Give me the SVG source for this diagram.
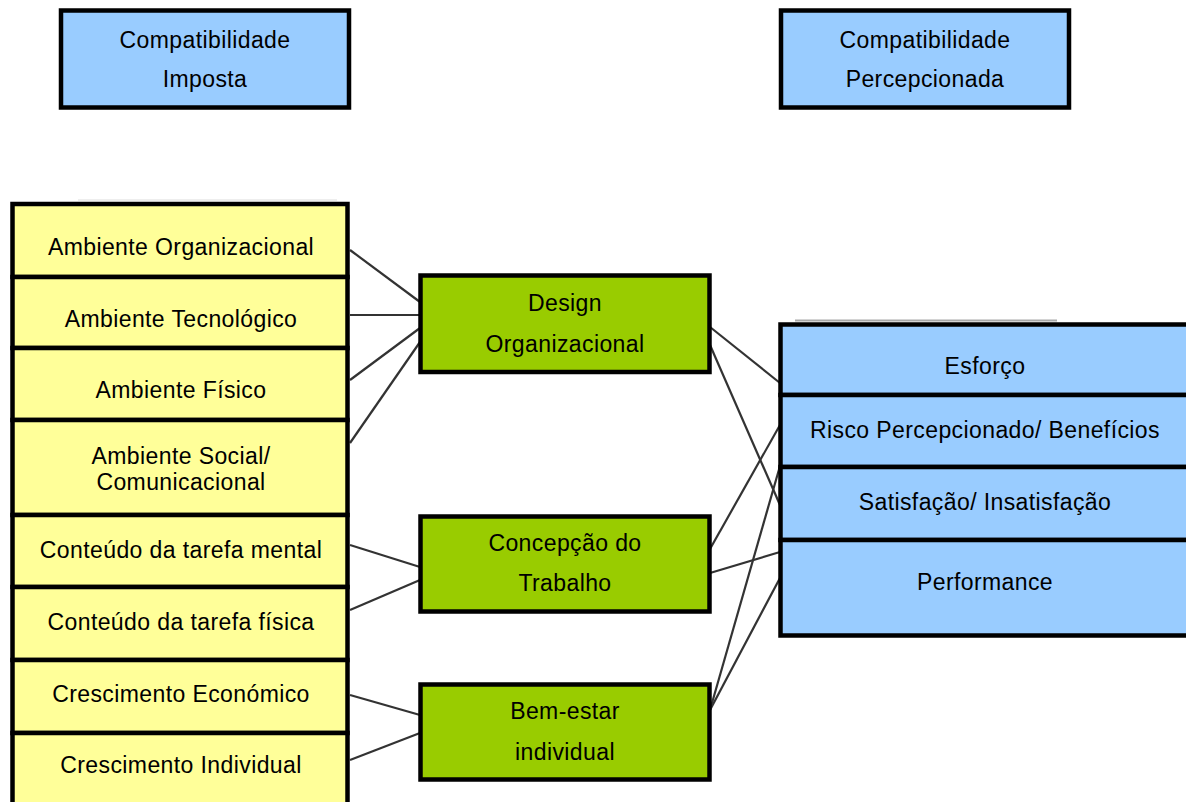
<svg xmlns="http://www.w3.org/2000/svg" width="1186" height="802" viewBox="0 0 1186 802">
  <style>
    .box { stroke: #000; stroke-width: 4.5; }
    .blue { fill: #99CCFF; }
    .yellow { fill: #FFFF99; }
    .green { fill: #99CC00; }
    text { font-family: "Liberation Sans", Arial, sans-serif; font-size: 23px; letter-spacing: 0.4px; fill: #000; text-anchor: middle; }
    .link { stroke: #333; stroke-width: 2.2; fill: none; }
    .shadow { stroke: #aaa; stroke-width: 2; }
  </style>
  <rect width="1186" height="802" fill="#fff"/>

  <!-- headers -->
  <g id="compat-imposta">
    <rect class="box blue" x="61" y="10.5" width="288" height="97"/>
    <text x="205" y="48">Compatibilidade</text>
    <text x="205" y="87">Imposta</text>
  </g>
  <g id="compat-percepcionada">
    <rect class="box blue" x="781" y="10.5" width="288" height="97"/>
    <text x="925" y="48">Compatibilidade</text>
    <text x="925" y="87">Percepcionada</text>
  </g>

  <!-- faint edge lines above the stacks -->
  <line class="shadow" x1="78" y1="200" x2="337" y2="200" stroke-opacity="0.2"/>
  <line class="shadow" x1="795" y1="320.5" x2="1057" y2="320.5"/>

  <!-- connectors -->
  <g id="connectors">
    <line class="link" x1="350" y1="250" x2="420" y2="302"/>
    <line class="link" x1="350" y1="315" x2="420" y2="315"/>
    <line class="link" x1="350" y1="380" x2="420" y2="328"/>
    <line class="link" x1="350" y1="443" x2="420" y2="342"/>
    <line class="link" x1="350" y1="545" x2="420" y2="567"/>
    <line class="link" x1="350" y1="610" x2="420" y2="580"/>
    <line class="link" x1="350" y1="695" x2="420" y2="715"/>
    <line class="link" x1="350" y1="760" x2="420" y2="733"/>

    <line class="link" x1="710" y1="327" x2="780" y2="383"/>
    <line class="link" x1="710" y1="345" x2="780" y2="505"/>
    <line class="link" x1="710" y1="549" x2="780" y2="425"/>
    <line class="link" x1="710" y1="573" x2="780" y2="552"/>
    <line class="link" x1="710" y1="710" x2="780" y2="466"/>
    <line class="link" x1="710" y1="710" x2="780" y2="578"/>
  </g>

  <!-- left stack -->
  <g id="amb-organizacional">
    <rect class="box yellow" x="12.5" y="204" width="335" height="73"/>
    <text x="181" y="255">Ambiente Organizacional</text>
  </g>
  <g id="amb-tecnologico">
    <rect class="box yellow" x="12.5" y="277" width="335" height="71"/>
    <text x="181" y="327">Ambiente Tecnológico</text>
  </g>
  <g id="amb-fisico">
    <rect class="box yellow" x="12.5" y="348" width="335" height="72"/>
    <text x="181" y="398">Ambiente Físico</text>
  </g>
  <g id="amb-social">
    <rect class="box yellow" x="12.5" y="420" width="335" height="95"/>
    <text x="181" y="464">Ambiente Social/</text>
    <text x="181" y="490">Comunicacional</text>
  </g>
  <g id="tarefa-mental">
    <rect class="box yellow" x="12.5" y="515" width="335" height="72"/>
    <text x="181" y="558">Conteúdo da tarefa mental</text>
  </g>
  <g id="tarefa-fisica">
    <rect class="box yellow" x="12.5" y="587" width="335" height="73"/>
    <text x="181" y="630">Conteúdo da tarefa física</text>
  </g>
  <g id="cresc-economico">
    <rect class="box yellow" x="12.5" y="660" width="335" height="73"/>
    <text x="181" y="702">Crescimento Económico</text>
  </g>
  <g id="cresc-individual">
    <rect class="box yellow" x="12.5" y="733" width="335" height="80"/>
    <text x="181" y="773">Crescimento Individual</text>
  </g>

  <!-- middle column -->
  <g id="design-org">
    <rect class="box green" x="420.5" y="275.5" width="289" height="96.5"/>
    <text x="565" y="311">Design</text>
    <text x="565" y="352">Organizacional</text>
  </g>
  <g id="concepcao">
    <rect class="box green" x="420.5" y="516.5" width="289" height="95"/>
    <text x="565" y="551">Concepção do</text>
    <text x="565" y="591">Trabalho</text>
  </g>
  <g id="bem-estar">
    <rect class="box green" x="420.5" y="684.5" width="289" height="95"/>
    <text x="565" y="719">Bem-estar</text>
    <text x="565" y="760">individual</text>
  </g>

  <!-- right stack -->
  <g id="esforco">
    <rect class="box blue" x="780.5" y="324.5" width="412" height="70.5"/>
    <text x="985" y="374">Esforço</text>
  </g>
  <g id="risco">
    <rect class="box blue" x="780.5" y="395" width="412" height="72"/>
    <text x="985" y="438">Risco Percepcionado/ Benefícios</text>
  </g>
  <g id="satisfacao">
    <rect class="box blue" x="780.5" y="467" width="412" height="73"/>
    <text x="985" y="510">Satisfação/ Insatisfação</text>
  </g>
  <g id="performance">
    <rect class="box blue" x="780.5" y="540" width="412" height="95.5"/>
    <text x="985" y="590">Performance</text>
  </g>
</svg>
